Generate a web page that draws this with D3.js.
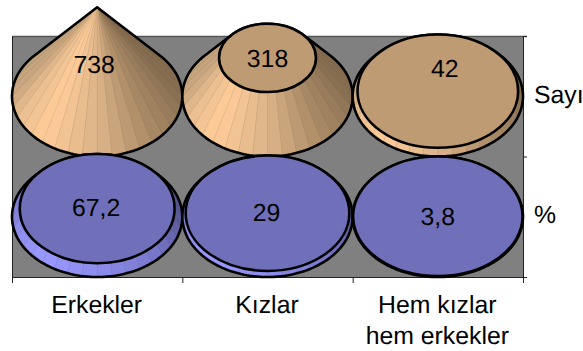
<!DOCTYPE html>
<html lang="tr">
<head>
    <meta charset="UTF-8">
    <title>Erkekler, Kızlar</title>
    <script src="https://d3js.org/d3.v7.min.js"></script>
    <style>
        body { margin: 0; background: #fff; }
        svg { display: block; }
        text { font-family: "Liberation Sans", Arial, sans-serif; font-size: 24.8px; fill: #000; text-rendering: geometricPrecision; }
    </style>
</head>
<body>
    <div id="chart"></div>
    <script>
        const categories = ["Erkekler", "Kızlar", "Hem kızlar\nhem erkekler"];
        const seriesNames = ["Sayı", "%"];
        const countValues = [738, 318, 42];
        const percentValues = [67.2, 29, 3.8];
        const countLabels = ["738", "318", "42"];
        const percentLabels = ["67,2", "29", "3,8"];
        const valueMax = 738;

        // label nudges from the middle of each top ellipse
        const countNudge = [[-3, 57], [0, 0], [7, -23]];
        const percentNudge = [[-1, -1], [-1, -1], [0, 0]];

        const width = 583, height = 351;
        const plotLeft = 12, plotRight = 523, plotTop = 36, plotBottom = 277;
        const coneHeight = 89, ryRatio = 0.705, segments = 36;

        const svg = d3.select("#chart").append("svg")
            .attr("width", width)
            .attr("height", height);

        const x = d3.scaleBand().domain(categories).range([plotLeft, plotRight]);
        const row = d3.scaleBand().domain(seriesNames).range([plotTop, plotBottom]);
        const rx = d3.scaleLinear().domain([0, valueMax]).range([x.bandwidth() / 2, 0]);
        const lift = d3.scaleLinear().domain([0, valueMax]).range([0, coneHeight]);

        // shading by facet angle, 0 = right, 90 = front, 180 = left
        const shadeCone = d3.scaleLinear()
            .domain([-90, 0, 50, 90, 130, 160, 180, 270])
            .range(["#7d664a", "#866d50", "#ab8b66", "#dcb488", "#ffcc99", "#e8bd8e", "#c9a67e", "#b89a76"]);
        const shadeDisc = d3.scaleLinear()
            .domain([-90, 0, 50, 90, 130, 160, 180, 270])
            .range(["#4c4c80", "#565690", "#7a7ad0", "#8c8ceb", "#9999ff", "#8e8eee", "#8080d6", "#7070c0"]);

        // plot background
        svg.append("rect")
            .attr("x", plotLeft).attr("y", plotTop)
            .attr("width", plotRight - plotLeft).attr("height", plotBottom - plotTop)
            .attr("fill", "#808080");
        svg.append("line")
            .attr("x1", plotLeft).attr("x2", plotRight + 4)
            .attr("y1", plotTop + 0.5).attr("y2", plotTop + 0.5)
            .attr("stroke", "#555").attr("stroke-width", 1.5);

        // axes
        const xEdges = d3.scaleLinear().domain([0, categories.length]).range([plotLeft, plotRight]);
        const yEdges = d3.scaleLinear().domain([0, seriesNames.length]).range([plotTop, plotBottom]);
        svg.append("g")
            .attr("transform", `translate(0,${plotBottom})`)
            .call(d3.axisBottom(xEdges).tickValues(d3.range(categories.length + 1)).tickSize(6).tickSizeOuter(0).tickFormat(""));
        svg.append("g")
            .attr("transform", `translate(${plotRight},0)`)
            .call(d3.axisRight(yEdges).tickValues(d3.range(seriesNames.length + 1)).tickSize(4).tickSizeOuter(0).tickFormat(""));
        svg.append("g")
            .attr("transform", `translate(${plotLeft},0)`)
            .call(d3.axisLeft(yEdges).tickValues([]).tickSize(0));
        svg.selectAll(".domain, .tick line").attr("stroke", "#222");

        function drawFrustum(cx, cy, value, shade, topFill) {
            const r0 = x.bandwidth() / 2, ry0 = r0 * ryRatio + 0.2;
            const r1 = rx(value), ry1 = r1 * ryRatio;
            const cyTop = cy - lift(value);
            const g = svg.append("g");

            const facets = d3.range(segments).map(i => i * 360 / segments - 90)
                .sort((a, b) => Math.sin((a + 180 / segments) * Math.PI / 180) - Math.sin((b + 180 / segments) * Math.PI / 180));

            facets.forEach(a => {
                const a0 = a * Math.PI / 180, a1 = (a + 360 / segments) * Math.PI / 180;
                const pts = [
                    [cx + r0 * Math.cos(a0), cy + ry0 * Math.sin(a0)],
                    [cx + r0 * Math.cos(a1), cy + ry0 * Math.sin(a1)],
                    [cx + r1 * Math.cos(a1), cyTop + ry1 * Math.sin(a1)],
                    [cx + r1 * Math.cos(a0), cyTop + ry1 * Math.sin(a0)]
                ];
                const c = shade(a + 180 / segments);
                g.append("polygon")
                    .attr("points", pts.join(" "))
                    .attr("fill", c)
                    .attr("stroke", d3.color(c).darker(0.25))
                    .attr("stroke-width", 0.5);
            });

            // outline around both ellipses
            const outline = [];
            d3.range(0, 360, 2).forEach(d => {
                const t = d * Math.PI / 180;
                outline.push([cx + r0 * Math.cos(t), cy + ry0 * Math.sin(t)]);
                outline.push([cx + r1 * Math.cos(t), cyTop + ry1 * Math.sin(t)]);
            });
            g.append("path")
                .attr("d", "M" + d3.polygonHull(outline).join("L") + "Z")
                .attr("fill", "none")
                .attr("stroke", "#000")
                .attr("stroke-width", 2.6)
                .attr("stroke-linejoin", "round");

            if (r1 > 0) {
                g.append("ellipse")
                    .attr("cx", cx).attr("cy", cyTop)
                    .attr("rx", r1).attr("ry", ry1)
                    .attr("fill", topFill)
                    .attr("stroke", "#000")
                    .attr("stroke-width", 2.6);
            }
        }

        // top row first, the lower row overlaps its rim
        const rowCentre = name => row(name) + row.bandwidth() / 2;
        categories.forEach((c, i) => {
            drawFrustum(x(c) + x.bandwidth() / 2, rowCentre(seriesNames[0]), countValues[i], shadeCone, "#bf9b74");
        });
        categories.forEach((c, i) => {
            drawFrustum(x(c) + x.bandwidth() / 2, rowCentre(seriesNames[1]), percentValues[i], shadeDisc, "#7070ba");
        });

        // value labels
        categories.forEach((c, i) => {
            const cx = x(c) + x.bandwidth() / 2;
            svg.append("text")
                .attr("x", cx + countNudge[i][0])
                .attr("y", rowCentre(seriesNames[0]) - lift(countValues[i]) + countNudge[i][1])
                .attr("dy", "0.35em")
                .attr("text-anchor", "middle")
                .text(countLabels[i]);
            svg.append("text")
                .attr("x", cx + percentNudge[i][0])
                .attr("y", rowCentre(seriesNames[1]) - lift(percentValues[i]) + percentNudge[i][1])
                .attr("dy", "0.35em")
                .attr("text-anchor", "middle")
                .text(percentLabels[i]);
        });

        // series names on the right
        seriesNames.forEach(name => {
            svg.append("text")
                .attr("x", 534)
                .attr("y", rowCentre(name) - 2)
                .attr("dy", "0.35em")
                .text(name);
        });

        // category names, wrapped on \n
        categories.forEach(c => {
            const t = svg.append("text")
                .attr("text-anchor", "middle")
                .attr("x", x(c) + x.bandwidth() / 2 - 0.5)
                .attr("y", 313);
            c.split("\n").forEach((line, i) => {
                t.append("tspan")
                    .attr("x", x(c) + x.bandwidth() / 2 - 0.5)
                    .attr("dy", i ? 31 : 0)
                    .text(line);
            });
        });
    </script>
</body>
</html>
